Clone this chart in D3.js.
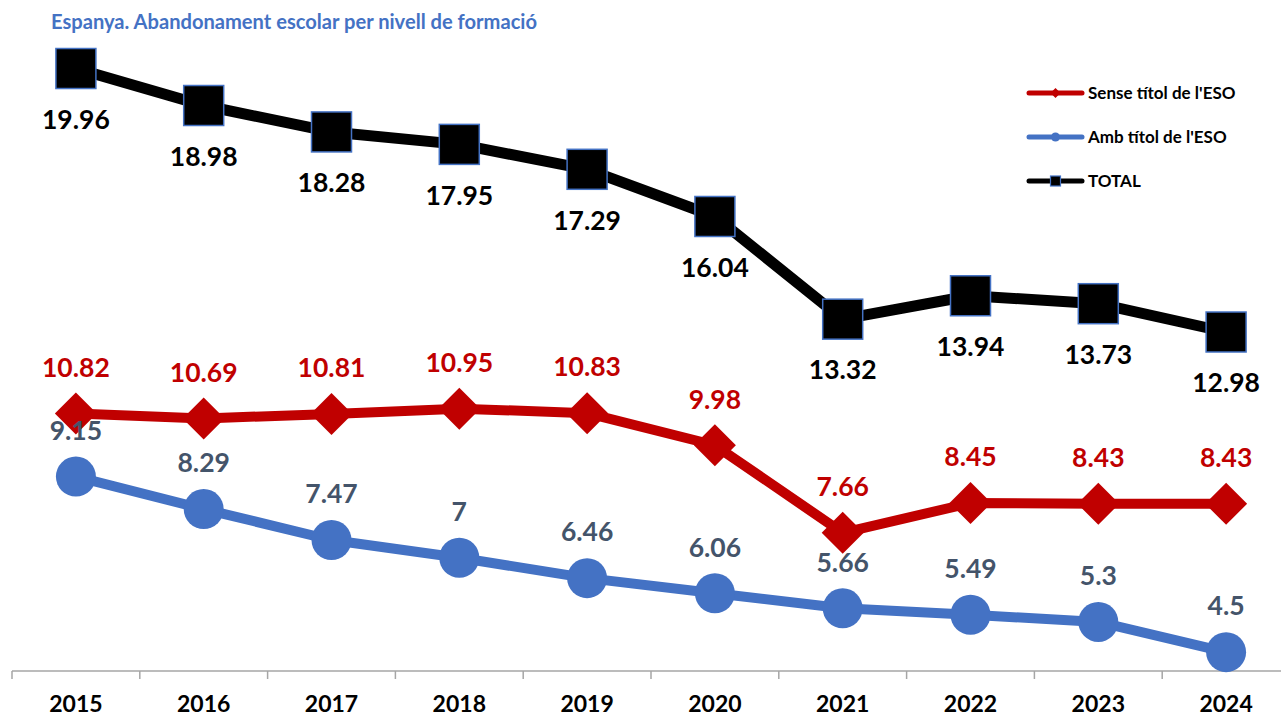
<!DOCTYPE html>
<html><head><meta charset="utf-8">
<script src="https://cdn.jsdelivr.net/npm/d3@7/dist/d3.min.js"></script>
<style>
html,body{margin:0;padding:0;background:#fff;}
svg{display:block;font-family:Lato,"Open Sans",sans-serif;}
</style></head>
<body>
<svg id="chart" width="1281" height="717"></svg>
<script>
const years = ["2015","2016","2017","2018","2019","2020","2021","2022","2023","2024"];
const senseTitol = [10.82,10.69,10.81,10.95,10.83,9.98,7.66,8.45,8.43,8.43];
const ambTitol = [9.15,8.29,7.47,7,6.46,6.06,5.66,5.49,5.3,4.5];
const total = [19.96,18.98,18.28,17.95,17.29,16.04,13.32,13.94,13.73,12.98];
const seriesNames = ["Sense títol de l'ESO","Amb títol de l'ESO","TOTAL"];
const titleText = "Espanya. Abandonament escolar per nivell de formació";

const svg = d3.select("#chart");
const x = d3.scaleBand().domain(years).range([12, 1290]).padding(0);
const cx = d => x(d) + x.bandwidth()/2;
const y = d3.scaleLinear().domain([4, 20]).range([671, 67]);

// title
svg.append("text").attr("x", 51).attr("y", 29)
  .attr("fill", "#4472C4").attr("font-weight", "bold").attr("font-size", 20)
  .attr("textLength", 486).attr("lengthAdjust", "spacingAndGlyphs")
  .text(titleText);

// axis
const axis = svg.append("g").attr("transform", "translate(0,671)");
axis.append("line").attr("x1", 12).attr("x2", 1290).attr("y1", 0).attr("y2", 0)
  .attr("stroke", "#A6A6A6").attr("stroke-width", 1.5);
axis.selectAll("line.tick").data(years.concat(["end"])).join("line")
  .attr("class","tick")
  .attr("x1", (d,i) => 12 + i*x.bandwidth()).attr("x2", (d,i) => 12 + i*x.bandwidth())
  .attr("y1", 0).attr("y2", 8).attr("stroke", "#A6A6A6").attr("stroke-width", 1.5);
axis.selectAll("text").data(years).join("text")
  .attr("x", d => cx(d)).attr("y", 41).attr("text-anchor","middle")
  .attr("font-weight","bold").attr("font-size", 23).attr("fill","#000").text(d => d);

const line = d3.line().x((d,i) => cx(years[i])).y(d => y(d));

const series = [
  {name: seriesNames[0], data: senseTitol, color: "#C00000", labelColor: "#C00000", marker: "diamond", labelDy: -46, width: 10},
  {name: seriesNames[1], data: ambTitol, color: "#4472C4", labelColor: "#44546A", marker: "circle", labelDy: -46, width: 10},
  {name: seriesNames[2], data: total, color: "#000000", labelColor: "#000000", marker: "square", labelDy: 51, width: 11}
];

function drawMarker(g, type, px, py, s, color) {
  if (type === "diamond") {
    g.append("path").attr("d", `M${px},${py-s}L${px+s},${py}L${px},${py+s}L${px-s},${py}Z`).attr("fill", color);
  } else if (type === "circle") {
    g.append("circle").attr("cx", px).attr("cy", py).attr("r", s).attr("fill", color);
  } else {
    g.append("rect").attr("x", px-s).attr("y", py-s).attr("width", 2*s).attr("height", 2*s)
      .attr("fill", "#000").attr("stroke", "#4472C4").attr("stroke-width", s > 8 ? 1.5 : 1.2);
  }
}

// lines + markers (blue first, then red, then black)
const order = [1, 0, 2];
order.forEach(k => {
  const s = series[k];
  const g = svg.append("g");
  g.append("path").datum(s.data).attr("d", line).attr("fill","none")
    .attr("stroke", s.color).attr("stroke-width", s.width).attr("stroke-linejoin","round");
  s.data.forEach((v,i) => {
    const size = s.marker === "diamond" ? 21 : 20;
    drawMarker(g, s.marker, cx(years[i]), y(v), size, s.color);
  });
});

// labels on top
order.forEach(k => {
  const s = series[k];
  svg.append("g").selectAll("text").data(s.data).join("text")
    .attr("x", (d,i) => cx(years[i])).attr("y", d => y(d) + s.labelDy)
    .attr("dy", "0.35em").attr("text-anchor","middle")
    .attr("font-weight","bold").attr("font-size", 26.5).attr("fill", s.labelColor)
    .text(d => d);
});

// legend
const legend = svg.append("g");
series.forEach((s,i) => {
  const ly = 93 + i*44;
  legend.append("line").attr("x1", 1029).attr("x2", 1082).attr("y1", ly).attr("y2", ly)
    .attr("stroke", s.color).attr("stroke-width", 5).attr("stroke-linecap","round");
  drawMarker(legend, s.marker, 1055.5, ly, s.marker === "diamond" ? 5 : s.marker === "circle" ? 4.5 : 5, s.color);
  legend.append("text").attr("x", 1088).attr("y", ly).attr("dy","0.35em")
    .attr("font-weight","bold").attr("font-size", 17).attr("fill","#000").text(s.name);
});
</script>
</body></html>
